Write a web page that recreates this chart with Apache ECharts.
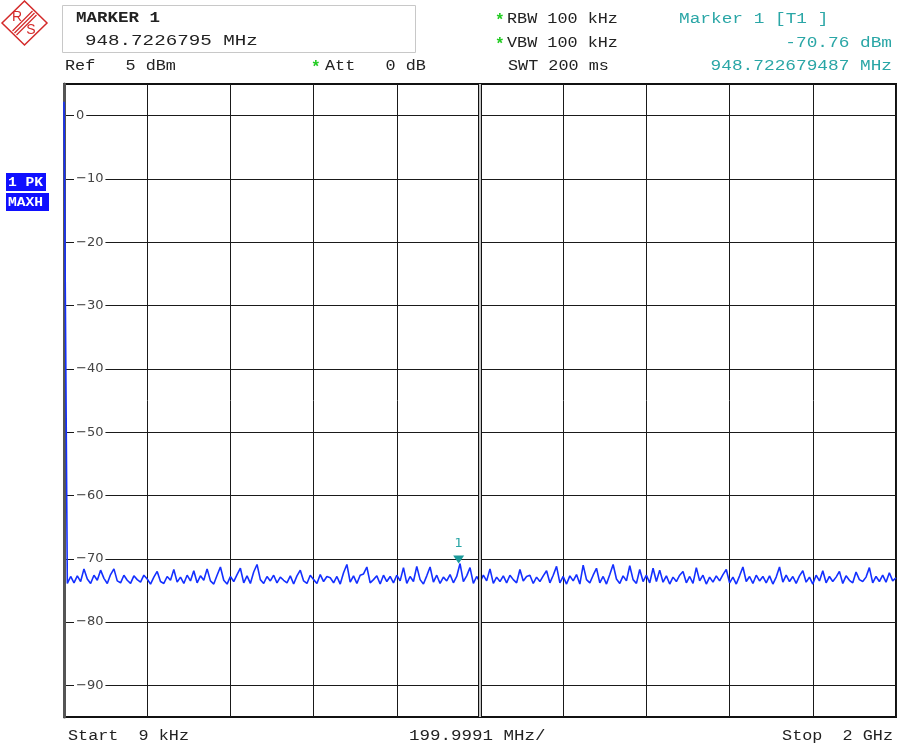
<!DOCTYPE html>
<html>
<head>
<meta charset="utf-8">
<script src="https://cdn.jsdelivr.net/npm/echarts@6/dist/echarts.min.js"></script>
<style>
  html, body { margin: 0; padding: 0; background: #fff; }
  #chart { width: 897px; height: 747px; }
</style>
</head>
<body>
<div id="chart"></div>
<script>
// sweep: 9 kHz .. 2 GHz, 251 points (dBm)
const startMHz = 0.009;
const stopMHz = 2000;
const levels = [
  2.2, -73.9, -72.8, -73.8, -72.7, -73.6, -71.6, -73.2, -73.9, -72.6,
  -73.4, -71.8, -73.1, -73.9, -72.5, -71.6, -73.5, -73.8, -72.6, -73.4,
  -73.9, -72.7, -73.3, -73.7, -72.6, -73.2, -74.0, -72.9, -72.0, -73.6,
  -73.9, -72.8, -73.4, -71.7, -73.7, -72.9, -73.9, -72.6, -73.5, -71.9,
  -73.8, -72.7, -73.4, -71.6, -73.5, -74.0, -72.6, -71.3, -73.4, -74.0,
  -72.8, -73.6, -72.5, -71.5, -73.8, -72.7, -73.9, -72.1, -70.9, -73.3,
  -73.9, -72.8, -73.5, -72.6, -73.8, -72.9, -73.4, -73.8, -72.7, -74.0,
  -72.7, -71.8, -73.5, -73.9, -72.6, -73.3, -73.9, -72.5, -73.6, -72.8,
  -73.0, -73.8, -72.8, -74.0, -72.2, -70.9, -73.7, -72.7, -73.9, -72.6,
  -72.4, -71.3, -73.8, -73.3, -72.7, -74.0, -72.6, -73.6, -72.8, -73.8,
  -72.6, -73.5, -71.4, -73.9, -72.8, -73.6, -71.2, -73.3, -74.0, -72.7,
  -71.3, -73.7, -72.6, -73.9, -72.9, -73.5, -72.5, -73.8, -72.8, -70.76,
  -73.6, -72.7, -71.4, -73.9, -72.8, -73.7, -72.6, -73.5, -71.6, -73.9,
  -72.9, -73.6, -72.7, -73.8, -72.6, -73.3, -73.8, -71.7, -73.5, -72.8,
  -72.6, -73.9, -72.9, -73.6, -72.7, -71.9, -73.8, -72.6, -71.2, -73.8,
  -72.8, -74.0, -72.7, -73.5, -72.5, -74.0, -71.0, -73.3, -73.8, -72.6,
  -71.5, -73.8, -72.8, -74.0, -72.5, -70.9, -73.2, -73.9, -72.7, -73.5,
  -71.1, -73.3, -73.9, -71.7, -73.6, -72.6, -73.8, -71.5, -73.6, -71.8,
  -73.7, -72.7, -74.0, -72.9, -73.6, -72.6, -72.0, -73.8, -72.8, -73.9,
  -71.4, -73.5, -72.6, -74.0, -72.9, -73.7, -72.7, -73.5, -72.5, -71.7,
  -73.8, -72.9, -74.0, -72.7, -71.3, -73.6, -72.8, -73.9, -72.6, -73.5,
  -72.8, -73.8, -72.7, -74.0, -72.9, -71.3, -73.7, -72.6, -73.6, -72.8,
  -73.9, -72.7, -71.9, -73.7, -72.9, -74.0, -72.6, -73.5, -71.9, -73.8,
  -72.8, -73.6, -72.9, -72.0, -73.9, -72.7, -73.4, -73.8, -72.1, -73.3,
  -73.6, -72.9, -71.4, -73.8, -72.8, -73.6, -72.6, -73.7, -72.2, -73.5,
  -73.0
];
const yTicks = [-90, -80, -70, -60, -50, -40, -30, -20, -10, 0];
const refLevel = 5;
const bottomLevel = -95;
const markerFreq = 948.7226795;
const markerLevel = -70.76;

const step = stopMHz / (levels.length - 1);
const trace = levels.map((v, i) => [i === 0 ? startMHz : i * step, v]);

const teal = '#2aa6a6';
const ink = '#222';
const green = '#22cc22';
const mono = '"Liberation Mono", monospace';

function txt(x, y, s, opt) {
  opt = opt || {};
  return {
    type: 'text', x: x, y: y, scaleX: opt.sx || 1.2, silent: true,
    style: {
      text: s, fill: opt.color || ink,
      font: (opt.bold ? 'bold ' : '') + (opt.size || 14) + 'px ' + mono,
      textAlign: opt.align || 'left', textVerticalAlign: 'middle'
    }
  };
}

const chart = echarts.init(document.getElementById('chart'));
chart.setOption({
  animation: false,
  backgroundColor: '#fff',
  grid: {
    left: 64, right: 1, top: 84, bottom: 30,
    show: true, borderColor: '#111', borderWidth: 2
  },
  xAxis: {
    type: 'value', min: 0, max: stopMHz, interval: 200,
    axisLabel: { show: false }, axisTick: { show: false }, axisLine: { show: false },
    splitLine: { show: true, lineStyle: { color: '#1a1a1a', width: 1 } }
  },
  yAxis: {
    type: 'value', min: bottomLevel, max: refLevel,
    axisLine: { show: true, lineStyle: { color: '#555', width: 3 } },
    axisTick: { show: false, customValues: yTicks },
    axisLabel: {
      inside: true, customValues: yTicks, margin: 10,
      color: '#444', fontFamily: 'DejaVu Sans', fontSize: 13,
      backgroundColor: '#fff', padding: [0, 2],
      formatter: v => (v < 0 ? '\u2212' + Math.abs(v) : String(v))
    },
    splitLine: { show: true, lineStyle: { color: '#1a1a1a', width: 1 } }
  },
  series: [
    {
      type: 'line', data: [], z: 1, silent: true,
      markLine: {
        silent: true, symbol: 'none', label: { show: false },
        data: [
          { xAxis: stopMHz / 2, lineStyle: { color: '#111', width: 4, type: 'solid' } },
          { xAxis: stopMHz / 2, lineStyle: { color: '#fff', width: 1.5, type: 'solid' } }
        ]
      }
    },
    {
      type: 'line', data: trace, z: 3, showSymbol: false, silent: true,
      lineStyle: { color: '#1430ff', width: 1.6 },
      markPoint: {
        silent: true,
        data: [{
          coord: [markerFreq, markerLevel],
          symbol: 'triangle', symbolRotate: 180, symbolSize: [11, 8], symbolOffset: [0, -4],
          itemStyle: { color: '#1a9a9a' },
          label: {
            show: true, formatter: '1', position: 'top', distance: 5,
            color: teal, fontFamily: 'DejaVu Sans', fontSize: 13
          }
        }]
      }
    }
  ],
  graphic: [
    // R&S logo
    { type: 'polygon', silent: true, shape: { points: [[2, 23], [24.5, 1], [47, 23], [24.5, 45]] },
      style: { fill: 'none', stroke: '#d42a2a', lineWidth: 1.5 } },
    { type: 'line', silent: true, shape: { x1: 12.5, y1: 31, x2: 32.5, y2: 11 }, style: { stroke: '#d42a2a', lineWidth: 1.2 } },
    { type: 'line', silent: true, shape: { x1: 14.5, y1: 33, x2: 34.5, y2: 13 }, style: { stroke: '#d42a2a', lineWidth: 1.2 } },
    { type: 'line', silent: true, shape: { x1: 16.5, y1: 35, x2: 36.5, y2: 15 }, style: { stroke: '#d42a2a', lineWidth: 1.2 } },
    { type: 'text', silent: true, x: 17, y: 17, style: { text: 'R', fill: '#d42a2a', font: '14px "Liberation Sans"', textAlign: 'center', textVerticalAlign: 'middle' } },
    { type: 'text', silent: true, x: 31, y: 30, style: { text: 'S', fill: '#d42a2a', font: '14px "Liberation Sans"', textAlign: 'center', textVerticalAlign: 'middle' } },
    // marker box
    { type: 'rect', silent: true, shape: { x: 62.5, y: 5.5, width: 353, height: 47 },
      style: { fill: '#fff', stroke: '#c8c8c8', lineWidth: 1 } },
    txt(76, 18, 'MARKER 1', { bold: true, sx: 1.25 }),
    txt(85, 41, '948.7226795 MHz', { size: 15, sx: 1.28 }),
    // settings
    txt(65, 66, 'Ref   5 dBm'),
    txt(311, 68, '*', { color: green, bold: true, size: 16, sx: 1 }),
    txt(325, 66, 'Att   0 dB'),
    txt(495, 21, '*', { color: green, bold: true, size: 16, sx: 1 }),
    txt(507, 19, 'RBW 100 kHz'),
    txt(495, 45, '*', { color: green, bold: true, size: 16, sx: 1 }),
    txt(507, 43, 'VBW 100 kHz'),
    txt(508, 66, 'SWT 200 ms'),
    txt(679, 19, 'Marker 1 [T1 ]', { color: teal, sx: 1.27 }),
    txt(892, 43, '-70.76 dBm', { color: teal, sx: 1.27, align: 'right' }),
    txt(892, 66, '948.722679487 MHz', { color: teal, sx: 1.27, align: 'right' }),
    // trace labels
    { type: 'rect', silent: true, shape: { x: 6, y: 173, width: 40, height: 18 }, style: { fill: '#1010ff' } },
    txt(8, 182.5, '1 PK', { bold: true, size: 12, color: '#fff', sx: 1.22 }),
    { type: 'rect', silent: true, shape: { x: 6, y: 193, width: 43, height: 18 }, style: { fill: '#1010ff' } },
    txt(8, 202.5, 'MAXH', { bold: true, size: 12, color: '#fff', sx: 1.22 }),
    // frequency axis
    txt(68, 736, 'Start  9 kHz'),
    txt(409, 736, '199.9991 MHz/', { sx: 1.25 }),
    txt(893, 736, 'Stop  2 GHz', { align: 'right' })
  ]
});
</script>
</body>
</html>
